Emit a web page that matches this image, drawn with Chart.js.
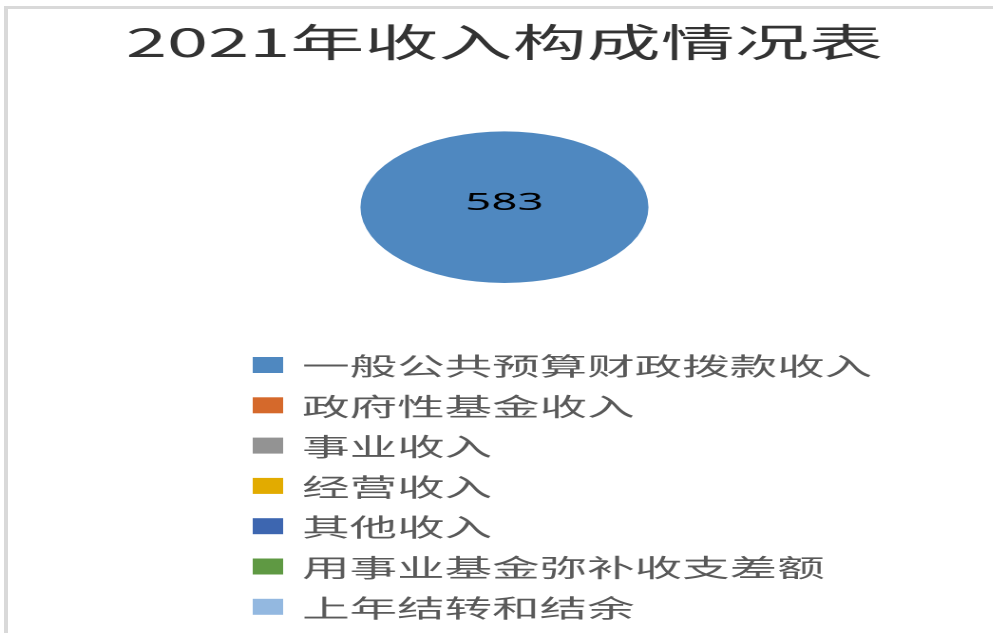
<!DOCTYPE html>
<html lang="zh-CN">
<head>
<meta charset="utf-8">
<title>2021年收入构成情况表</title>
<script src="https://cdn.jsdelivr.net/npm/chart.js@4.4.0/dist/chart.umd.min.js"></script>
<style>
  html, body { margin: 0; padding: 0; background: #fff; overflow: hidden; }
  body { width: 993px; height: 633px; position: relative; }
  /* the original picture is stretched sideways, so the chart is drawn narrow and widened */
  #wrap {
    position: absolute; left: 0; top: 0;
    width: 523px; height: 633px;
    transform: scaleX(1.9); transform-origin: 0 0;
  }
  #frame {
    position: absolute; left: 4px; top: 6px; right: -10px; bottom: -10px;
    border-top: 3px solid #d9d9d9; border-left: 4px solid #d9d9d9;
    pointer-events: none;
  }
</style>
</head>
<body>
<div id="wrap"><canvas id="incomeChart"></canvas></div>
<div id="frame"></div>
<script>
const chartTitle = '2021年收入构成情况表';
const categories = ['一般公共预算财政拨款收入', '政府性基金收入', '事业收入', '经营收入', '其他收入', '用事业基金弥补收支差额', '上年结转和结余'];
const amounts = [583, 0, 0, 0, 0, 0, 0];
const sliceColors = ['#4f88c0', '#d5692b', '#939393', '#e2ab00', '#3d66b0', '#5f9943', '#93b8e0'];

const cjkFont = '"Noto Sans CJK SC", "Noto Sans", sans-serif';

// value label in the middle of the slice
const valueLabels = {
  id: 'valueLabels',
  afterDatasetsDraw(chart) {
    const ctx = chart.ctx;
    const meta = chart.getDatasetMeta(0);
    ctx.save();
    ctx.font = '24px "Noto Sans", sans-serif';
    ctx.fillStyle = '#000';
    ctx.textAlign = 'center';
    ctx.textBaseline = 'middle';
    meta.data.forEach((arc, i) => {
      const v = amounts[i];
      if (!v) return;
      const full = arc.circumference >= Math.PI * 2 - 0.001;
      const pos = full ? { x: arc.x, y: arc.y - 4 } : arc.tooltipPosition();
      ctx.fillText(String(v), pos.x, pos.y);
    });
    ctx.restore();
  }
};

// one legend entry per line, left aligned under the pie
const listLegend = {
  id: 'listLegend',
  afterDraw(chart) {
    const ctx = chart.ctx;
    const colors = chart.data.datasets[0].backgroundColor;
    const top = chart.chartArea.bottom + 82;
    ctx.save();
    ctx.font = '25px ' + cjkFont;
    ctx.textAlign = 'left';
    ctx.textBaseline = 'middle';
    chart.data.labels.forEach((name, i) => {
      const y = top + i * 40.3;
      ctx.fillStyle = colors[i];
      ctx.fillRect(133, y - 8, 16, 16);
      ctx.fillStyle = '#595959';
      ctx.fillText(name, 159, y + 1);
    });
    ctx.restore();
  }
};

const ctx = document.getElementById('incomeChart').getContext('2d');
const incomeChart = new Chart(ctx, {
  type: 'pie',
  data: {
    labels: categories,
    datasets: [{
      data: amounts,
      backgroundColor: sliceColors,
      borderWidth: 0
    }]
  },
  options: {
    responsive: true,
    maintainAspectRatio: false,
    devicePixelRatio: 2,
    animation: false,
    layout: {
      padding: { left: 8, right: 0, top: 0, bottom: 350 }
    },
    plugins: {
      legend: { display: false },
      tooltip: { enabled: false },
      title: {
        display: true,
        text: chartTitle,
        color: '#333333',
        font: { family: cjkFont, size: 39, weight: 'normal' },
        padding: { top: 19, bottom: 65.6 }
      }
    }
  },
  plugins: [valueLabels, listLegend]
});
</script>
</body>
</html>
